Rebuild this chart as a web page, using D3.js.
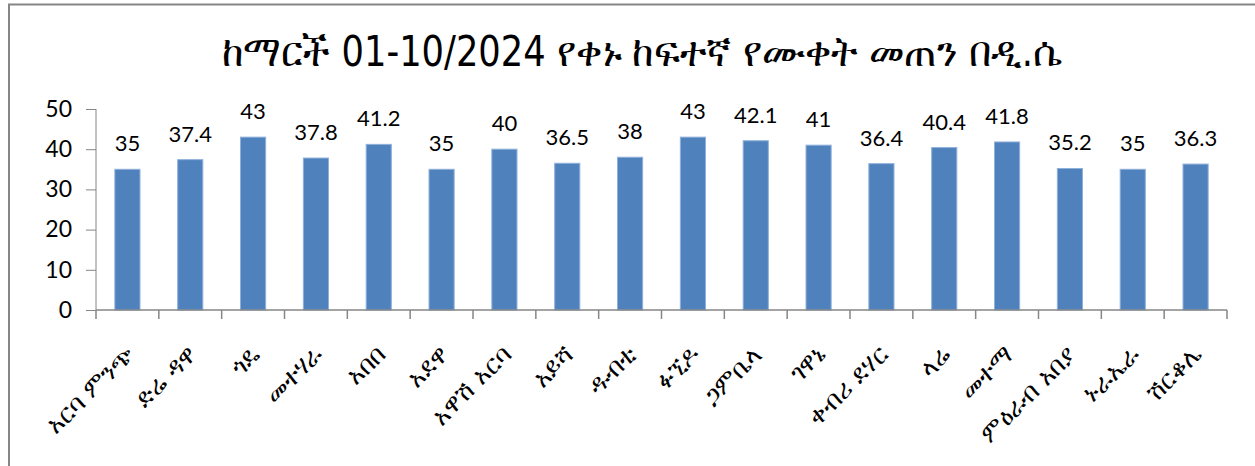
<!DOCTYPE html>
<html lang="en">
<head>
  <meta charset="UTF-8" />
  <title>Max temperature</title>
  <script src="https://d3js.org/d3.v7.min.js"></script>
  <style>
    body { margin: 0; background: #fff; overflow: hidden; }
    svg { display: block; }
    .tick text { font-family: Lato, "Open Sans", sans-serif; }
  </style>
</head>
<body>
  <script>
    // data
    const stations = ['አርባ ምንጭ', 'ድሬ ዳዋ', 'ጎዴ', 'መተሃራ', 'አበበ', 'አደዋ', 'አዋሽ አርባ', 'አይሻ', 'ዱብቲ',
      'ፉኚዶ', 'ጋምቤላ', 'ገዋኔ', 'ቀብሪ ደሃር', 'ላሬ', 'መተማ', 'ምዕራብ አበያ', 'ኑራኤራ', 'ሽርቆሌ'];
    const maxTemp = [35, 37.4, 43, 37.8, 41.2, 35, 40, 36.5, 38, 43, 42.1, 41, 36.4, 40.4, 41.8, 35.2, 35, 36.3];
    const yTicks = [0, 10, 20, 30, 40, 50];
    const title = 'ከማርች 01-10/2024 የቀኑ ከፍተኛ የሙቀት መጠን በዲ.ሴ';

    const W = 1255, H = 466;
    const margin = { top: 109, right: 28, bottom: 156, left: 96 };

    const svg = d3.select('body').append('svg')
      .attr('width', W)
      .attr('height', H);

    // chart frame
    svg.append('rect')
      .attr('x', 9).attr('y', 4.5)
      .attr('width', W + 20).attr('height', H + 20)
      .attr('fill', 'none')
      .attr('stroke', '#868686')
      .attr('stroke-width', 2);

    svg.append('text')
      .attr('x', 642)
      .attr('y', 66)
      .attr('text-anchor', 'middle')
      .attr('textLength', 840)
      .attr('lengthAdjust', 'spacingAndGlyphs')
      .style('font-family', '"DejaVu Sans Condensed", "DejaVu Sans", sans-serif')
      .style('font-size', '42px')
      .text(title);

    const x = d3.scaleBand()
      .domain(stations)
      .range([margin.left, W - margin.right])
      .paddingInner(0.6)
      .paddingOuter(0.3);

    const y = d3.scaleLinear()
      .domain([0, 50])
      .range([H - margin.bottom, margin.top]);

    // bars
    svg.append('g')
      .selectAll('rect')
      .data(stations)
      .join('rect')
      .attr('x', d => x(d))
      .attr('y', (d, i) => y(maxTemp[i]))
      .attr('width', x.bandwidth())
      .attr('height', (d, i) => y(0) - y(maxTemp[i]))
      .attr('fill', '#4f81bd')
      .attr('stroke', '#8eb0da')
      .attr('stroke-width', 1);

    // value labels
    svg.append('g')
      .selectAll('text')
      .data(stations)
      .join('text')
      .attr('x', d => x(d) + x.bandwidth() / 2)
      .attr('y', (d, i) => y(maxTemp[i]) - 18)
      .attr('text-anchor', 'middle')
      .style('font-family', 'Lato, "Open Sans", sans-serif')
      .style('font-size', '22px')
      .attr('fill', '#000')
      .text((d, i) => maxTemp[i]);

    // y axis
    const yAxis = svg.append('g')
      .attr('transform', `translate(${margin.left},0)`)
      .call(d3.axisLeft(y).tickValues(yTicks).tickSize(10).tickPadding(14));
    yAxis.selectAll('line, path').attr('stroke', '#868686');
    yAxis.select('.domain').attr('d', `M0,${y(50)}V${y(0)}`);
    yAxis.selectAll('.tick text').style('font-size', '23px').attr('fill', '#000');

    // x axis with ticks between categories
    const xAxis = svg.append('g')
      .attr('transform', `translate(0,${y(0)})`);
    const x0 = margin.left, x1 = W - margin.right;
    xAxis.append('path')
      .attr('d', `M${x0},0H${x1}`)
      .attr('stroke', '#868686')
      .attr('stroke-width', 1.5);
    xAxis.selectAll('line')
      .data(d3.range(stations.length + 1))
      .join('line')
      .attr('x1', i => x0 + i * (x1 - x0) / stations.length)
      .attr('x2', i => x0 + i * (x1 - x0) / stations.length)
      .attr('y1', 0).attr('y2', 9)
      .attr('stroke', '#868686')
      .attr('stroke-width', 1.5);

    svg.append('g')
      .selectAll('text')
      .data(stations)
      .join('text')
      .attr('transform', d => `translate(${x(d) + x.bandwidth() / 2 + 8},${y(0) + 46}) rotate(-45)`)
      .attr('text-anchor', 'end')
      .style('font-family', '"DejaVu Sans", sans-serif')
      .style('font-size', '25px')
      .text(d => d);
  </script>
</body>
</html>
